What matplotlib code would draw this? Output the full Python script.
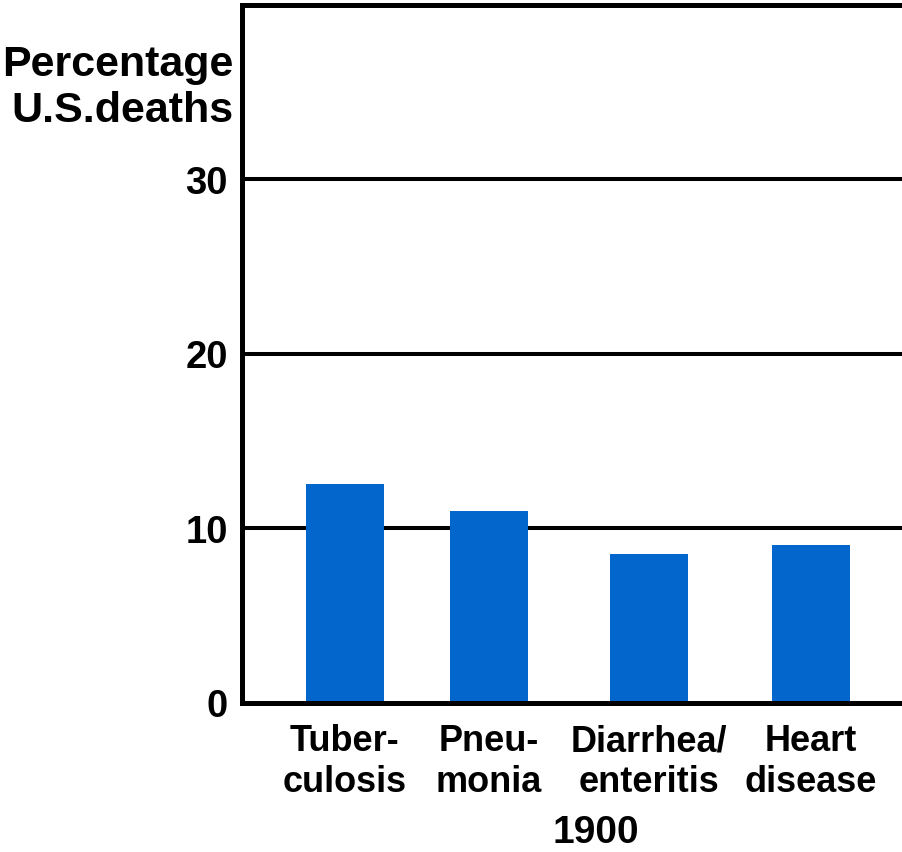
import matplotlib.pyplot as plt

# Cause di morte negli USA, 1900 (percentuale sul totale)
cause = ["Tuber-\nculosis", "Pneu-\nmonia", "Diarrhea/\nenteritis", "Heart\ndisease"]
percentuali = [12.5, 11.0, 8.5, 9.0]
yticks = [0, 10, 20, 30]
anno = "1900"

plt.rcParams['font.family'] = ['Liberation Sans', 'DejaVu Sans']
plt.rcParams['font.weight'] = 'bold'

fig = plt.figure(figsize=(9.02, 8.53), dpi=100)
ax = fig.add_axes([242 / 902, 1 - 703.5 / 853, 1 - 242 / 902, (703.5 - 5.5) / 853])

# posizioni delle colonne lungo l'asse (in unità dell'asse x)
x_pos = [103, 247, 407, 569]

for y in yticks[1:]:
    ax.axhline(y, color='black', lw=2.9, zorder=1)

ax.bar(x_pos, percentuali, width=78, color='#0366cc', zorder=2)

ax.set_xlim(0, 660)
ax.set_ylim(0, 40)
ax.set_yticks(yticks)
ax.set_yticklabels([str(v) for v in yticks], fontsize=27.5, fontweight='bold')
ax.set_xticks(x_pos)
ax.set_xticklabels(cause, fontsize=26, fontweight='bold', linespacing=1.22)
ax.tick_params(axis='y', length=0, pad=10)
ax.tick_params(axis='x', length=0, pad=15)

ax.spines['right'].set_visible(False)
for lato in ['left', 'top', 'bottom']:
    ax.spines[lato].set_linewidth(3.6)
    ax.spines[lato].set_color('black')

fig.text(234 / 902, 1 - 45 / 853, "Percentage\nU.S.deaths", ha='right', va='top',
         fontsize=31, fontweight='bold', multialignment='right', linespacing=1.2)
fig.text(596 / 902, 1 - 843 / 853, anno, ha='center', va='baseline',
         fontsize=28, fontweight='bold')

fig.savefig("out.png", dpi=100)
